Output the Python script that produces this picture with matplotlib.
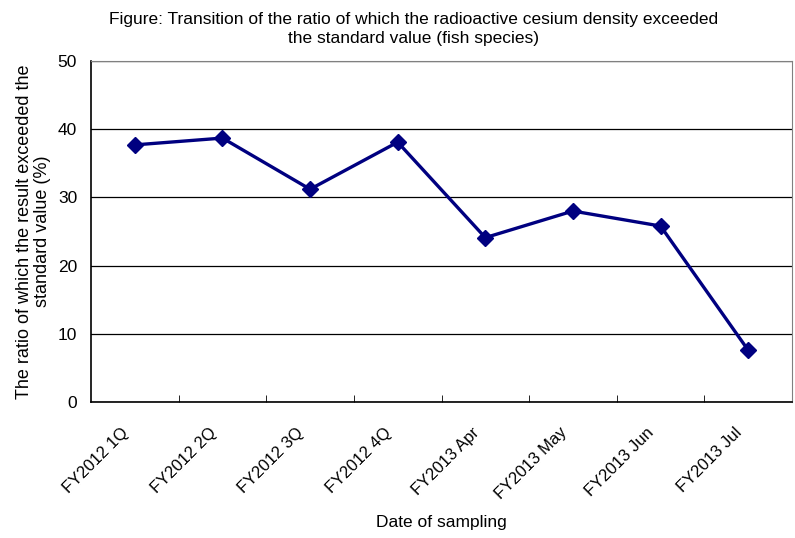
import matplotlib
matplotlib.use('Agg')
import matplotlib.pyplot as plt
import matplotlib.transforms as mtransforms
import numpy as np

plt.rcParams['font.family'] = ['Liberation Sans', 'DejaVu Sans']

# data
periods = ['FY2012 1Q', 'FY2012 2Q', 'FY2012 3Q', 'FY2012 4Q',
           'FY2013 Apr', 'FY2013 May', 'FY2013 Jun', 'FY2013 Jul']
ratio = [37.7, 38.7, 31.2, 38.1, 24.1, 28.0, 25.8, 7.6]
y_ticks = [0, 10, 20, 30, 40, 50]

fig = plt.figure(figsize=(7.95, 5.38), dpi=100)
ax = fig.add_axes([0.1145, 0.2528, 0.8817, 0.6338])

x = np.arange(len(periods))
ax.plot(x, ratio, color='#000080', linewidth=2.4, marker='D',
        markersize=8.5, zorder=3)

ax.set_xlim(-0.5, len(periods) - 0.5)
ax.set_ylim(0, 50)
ax.set_yticks(y_ticks)
ax.tick_params(axis='y', length=0, labelsize=12.5, pad=10)
ax.yaxis.grid(True, color='black', linewidth=0.9)
ax.set_axisbelow(True)

# category ticks sit on the boundaries, pointing inward
ax.set_xticks(x + 0.5, minor=True)
ax.set_xticks(x)
ax.set_xticklabels(periods, rotation=45, ha='right', va='top',
                   rotation_mode='anchor', fontsize=12)
ax.tick_params(axis='x', which='major', length=0, pad=20)
ax.tick_params(axis='x', which='minor', direction='in', length=5,
               color='black')
shift = mtransforms.ScaledTranslation(-0.14, 0.05, fig.dpi_scale_trans)
for lbl in ax.get_xticklabels():
    lbl.set_transform(lbl.get_transform() + shift)

for side in ['top', 'right']:
    ax.spines[side].set_color('#808080')
for side in ['left', 'bottom']:
    ax.spines[side].set_color('black')
    ax.spines[side].set_linewidth(1.2)

ax.set_ylabel('The ratio of which the result exceeded the\nstandard value (%)',
              fontsize=13, labelpad=5, linespacing=1.1)
fig.text(0.555, 0.028, 'Date of sampling', ha='center', va='center',
         fontsize=12.5)
fig.text(0.52, 0.978,
         'Figure: Transition of the ratio of which the radioactive cesium density exceeded\n'
         'the standard value (fish species)',
         ha='center', va='top', fontsize=12.5, linespacing=1.35)

fig.savefig('out.png', dpi=100)
